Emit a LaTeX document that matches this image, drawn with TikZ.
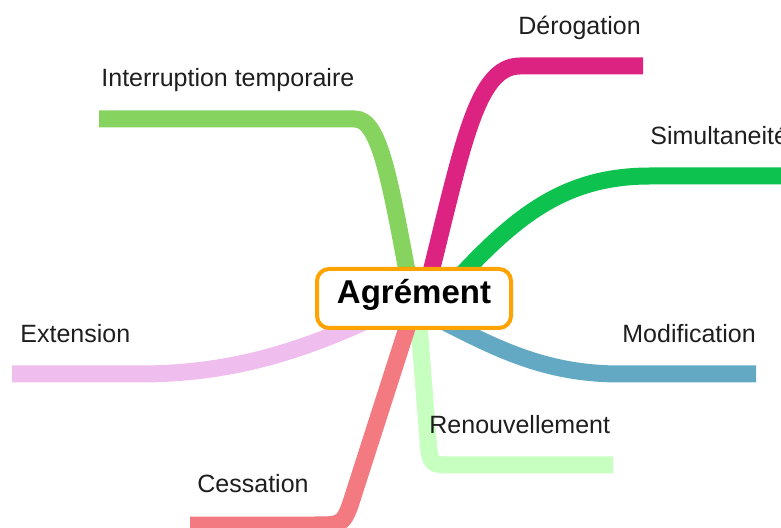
\documentclass[tikz,border=0pt]{standalone}
\usepackage{fontspec}
\setmainfont{Liberation Sans}
\usepackage{xcolor}
\usetikzlibrary{backgrounds}

\definecolor{derogc}{HTML}{DD2381}
\definecolor{interrc}{HTML}{86D45F}
\definecolor{simulc}{HTML}{0DC24E}
\definecolor{modifc}{HTML}{63A9C4}
\definecolor{renouvc}{HTML}{C6FFC0}
\definecolor{cessc}{HTML}{F47A81}
\definecolor{extc}{HTML}{EFBEEE}
\definecolor{agrorange}{HTML}{FFA300}
\definecolor{txt}{HTML}{1E1E1E}

\begin{document}
\begin{tikzpicture}[x=0.5pt,y=-0.5pt,
	branch/.style={line width=8.5pt},
	lbl/.style={anchor=base west,inner sep=0pt,text=txt,font=\fontsize{12.5}{15}\selectfont}]
	\useasboundingbox (0,0) rectangle (781,528);

	\node[draw=agrorange,line width=2pt,fill=white,rounded corners=6pt,minimum width=97pt,minimum height=29.5pt,inner sep=0pt,text height=9pt,text depth=3.5pt,font=\fontsize{16.5}{20}\selectfont\bfseries] (agr) at (414,298.5) {Agrément};

	\node[lbl] (derog) at (518,35) {Dérogation};
	\node[lbl] (interr) at (101,87) {Interruption temporaire};
	\node[lbl] (simul) at (650,145) {Simultaneité};
	\node[lbl] (ext) at (20,343) {Extension};
	\node[lbl] (modif) at (622,343) {Modification};
	\node[lbl] (renouv) at (429,434) {Renouvellement};
	\node[lbl] (cess) at (197,493) {Cessation};

	\coordinate (derogEnd) at (643,66);
	\coordinate (interrEnd) at (99,119);
	\coordinate (simulEnd) at (790,176);
	\coordinate (extEnd) at (12,374);
	\coordinate (modifEnd) at (756,374);
	\coordinate (renouvEnd) at (613,465);
	\coordinate (cessEnd) at (190,525);

	\begin{scope}[on background layer]
	\draw[branch,derogc] ([shift={(10,1.5)}]agr.center) .. controls (462,150) and (475,66) .. (520,66) -- (derogEnd);
	\draw[branch,interrc] ([shift={(-2,-0.5)}]agr.center) .. controls (390,180) and (380,119) .. (355,119) -- (interrEnd);
	\draw[branch,simulc] ([shift={(26,0)}]agr.center) .. controls (510,220) and (560,176) .. (650,176) -- (simulEnd);
	\draw[branch,modifc] ([shift={(11,13.5)}]agr.center) .. controls (490,345) and (540,374) .. (620,374) -- (modifEnd);
	\draw[branch,renouvc] ([shift={(3,1.5)}]agr.center) -- (428,440) .. controls (430,465) .. (455,465) -- (renouvEnd);
	\draw[branch,cessc] ([shift={(2,1.5)}]agr.center) -- (355,490) .. controls (344,525) .. (315,525) -- (cessEnd);
	\draw[branch,extc] ([shift={(0,-0.5)}]agr.center) .. controls (330,340) and (250,374) .. (140,374) -- (extEnd);
	\end{scope}
\end{tikzpicture}
\end{document}
